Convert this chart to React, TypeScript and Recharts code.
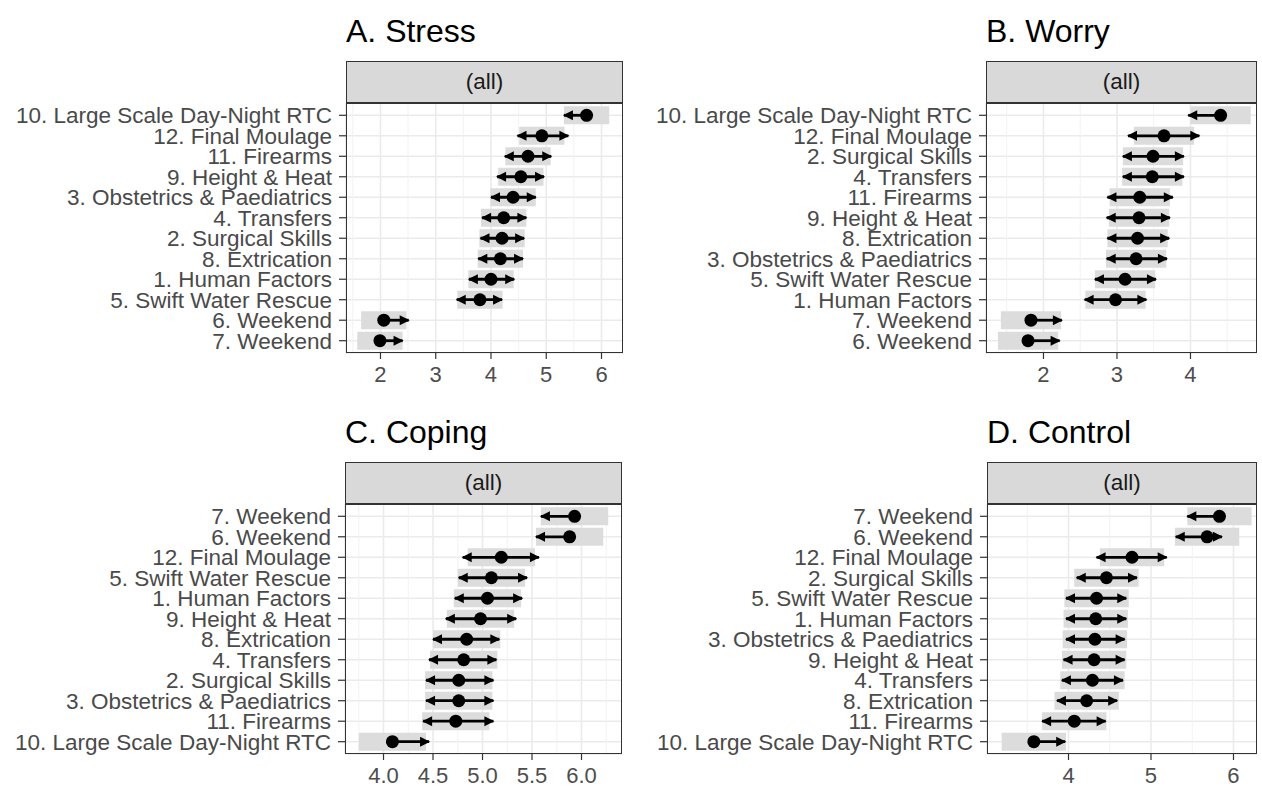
import React from 'react';
import { ScatterChart, Scatter, XAxis, YAxis, CartesianGrid, ReferenceLine, ErrorBar } from 'recharts';

const FONT = '"Liberation Sans", Arial, Helvetica, sans-serif';

// ---------- A. Stress ----------
const stressLabels = ['10. Large Scale Day-Night RTC', '12. Final Moulage', '11. Firearms', '9. Height & Heat', '3. Obstetrics & Paediatrics', '4. Transfers', '2. Surgical Skills', '8. Extrication', '1. Human Factors', '5. Swift Water Rescue', '6. Weekend', '7. Weekend'];
const stressMean = [5.73, 4.92, 4.67, 4.54, 4.40, 4.23, 4.20, 4.17, 4.00, 3.80, 2.06, 1.99];
const stressArrowLo = [5.32, 4.48, 4.25, 4.11, 4.00, 3.84, 3.81, 3.77, 3.60, 3.38, null, null];
const stressArrowHi = [null, 5.40, 5.09, 4.96, 4.81, 4.64, 4.60, 4.58, 4.42, 4.20, 2.51, 2.40];
const stressCiLo = [5.32, 4.51, 4.26, 4.13, 3.99, 3.82, 3.79, 3.76, 3.59, 3.39, 1.65, 1.58];
const stressCiHi = [6.14, 5.33, 5.08, 4.95, 4.81, 4.64, 4.61, 4.58, 4.41, 4.21, 2.47, 2.40];
const stressTicks = [2, 3, 4, 5, 6];
const stressMinor = [1.5, 2.5, 3.5, 4.5, 5.5];

// ---------- B. Worry ----------
const worryLabels = ['10. Large Scale Day-Night RTC', '12. Final Moulage', '2. Surgical Skills', '4. Transfers', '11. Firearms', '9. Height & Heat', '8. Extrication', '3. Obstetrics & Paediatrics', '5. Swift Water Rescue', '1. Human Factors', '7. Weekend', '6. Weekend'];
const worryMean = [4.41, 3.64, 3.49, 3.48, 3.31, 3.30, 3.28, 3.26, 3.11, 2.98, 1.83, 1.79];
const worryArrowLo = [3.97, 3.15, 3.08, 3.08, 2.87, 2.86, 2.87, 2.86, 2.70, 2.56, null, null];
const worryArrowHi = [null, 4.12, 3.91, 3.91, 3.76, 3.72, 3.71, 3.68, 3.53, 3.40, 2.25, 2.22];
const worryCiLo = [4.00, 3.23, 3.08, 3.07, 2.90, 2.89, 2.87, 2.85, 2.70, 2.57, 1.42, 1.38];
const worryCiHi = [4.82, 4.05, 3.90, 3.89, 3.72, 3.71, 3.69, 3.67, 3.52, 3.39, 2.24, 2.20];
const worryTicks = [2, 3, 4];
const worryMinor = [1.5, 2.5, 3.5, 4.5];

// ---------- C. Coping ----------
const copingLabels = ['7. Weekend', '6. Weekend', '12. Final Moulage', '5. Swift Water Rescue', '1. Human Factors', '9. Height & Heat', '8. Extrication', '4. Transfers', '2. Surgical Skills', '3. Obstetrics & Paediatrics', '11. Firearms', '10. Large Scale Day-Night RTC'];
const copingMean = [5.93, 5.88, 5.19, 5.09, 5.05, 4.98, 4.84, 4.81, 4.76, 4.76, 4.73, 4.09];
const copingArrowLo = [5.59, 5.54, 4.80, 4.76, 4.72, 4.63, 4.50, 4.46, 4.43, 4.43, 4.40, null];
const copingArrowHi = [null, null, 5.57, 5.45, 5.40, 5.34, 5.17, 5.14, 5.11, 5.11, 5.11, 4.46];
const copingCiLo = [5.59, 5.54, 4.85, 4.75, 4.71, 4.64, 4.50, 4.47, 4.42, 4.42, 4.39, 3.75];
const copingCiHi = [6.27, 6.22, 5.53, 5.43, 5.39, 5.32, 5.18, 5.15, 5.10, 5.10, 5.07, 4.43];
const copingTicks = [4, 4.5, 5, 5.5, 6];
const copingMinor = [3.75, 4.25, 4.75, 5.25, 5.75, 6.25];

// ---------- D. Control ----------
const controlLabels = ['7. Weekend', '6. Weekend', '12. Final Moulage', '2. Surgical Skills', '5. Swift Water Rescue', '1. Human Factors', '3. Obstetrics & Paediatrics', '9. Height & Heat', '4. Transfers', '8. Extrication', '11. Firearms', '10. Large Scale Day-Night RTC'];
const controlMean = [5.83, 5.68, 4.77, 4.46, 4.34, 4.33, 4.32, 4.31, 4.29, 4.22, 4.07, 3.58];
const controlArrowLo = [5.44, 5.30, 4.34, 4.10, 3.97, 3.97, 3.97, 3.94, 3.92, 3.86, 3.68, null];
const controlArrowHi = [null, 5.86, 5.19, 4.83, 4.70, 4.70, 4.68, 4.68, 4.66, 4.59, 4.45, 3.96];
const controlCiLo = [5.44, 5.29, 4.38, 4.07, 3.95, 3.94, 3.93, 3.92, 3.90, 3.83, 3.68, 3.19];
const controlCiHi = [6.22, 6.07, 5.16, 4.85, 4.73, 4.72, 4.71, 4.70, 4.68, 4.61, 4.46, 3.97];
const controlTicks = [4, 5, 6];
const controlMinor = [3.5, 4.5, 5.5];

type Num = number | null;

function buildRows(labels: string[], mean: number[], lo: Num[], hi: Num[], ciLo: number[], ciHi: number[]) {
  const n = labels.length;
  return labels.map((label, i) => ({
    row: n - i,
    label,
    val: mean[i],
    ciErr: [mean[i] - ciLo[i], ciHi[i] - mean[i]],
    arrErr: [lo[i] == null ? 0 : mean[i] - (lo[i] as number), hi[i] == null ? 0 : (hi[i] as number) - mean[i]],
  }));
}

function buildTips(labels: string[], tips: Num[]) {
  const n = labels.length;
  const out: { row: number; val: number }[] = [];
  tips.forEach((v, i) => {
    if (v != null) out.push({ row: n - i, val: v });
  });
  return out;
}

const Empty = () => <g />;
const Dot = (p: any) => <circle cx={p.cx} cy={p.cy} r={6.5} fill="#000" />;
const LeftTip = (p: any) => (
  <polygon points={`${p.cx - 1},${p.cy} ${p.cx + 9},${p.cy - 5} ${p.cx + 9},${p.cy + 5}`} fill="#000" />
);
const RightTip = (p: any) => (
  <polygon points={`${p.cx + 1},${p.cy} ${p.cx - 9},${p.cy - 5} ${p.cx - 9},${p.cy + 5}`} fill="#000" />
);

type PanelCfg = {
  title: string;
  labels: string[];
  mean: number[];
  lo: Num[];
  hi: Num[];
  ciLo: number[];
  ciHi: number[];
  ticks: number[];
  minor: number[];
  domain: [number, number];
  fmt: (v: number) => string;
  chartLeft: number;
  L: number;
  R: number;
  T: number;
  B: number;
  stripTop: number;
  titleBaseline: number;
};

function Panel({ cfg }: { cfg: PanelCfg }) {
  const { title, labels, mean, lo, hi, ciLo, ciHi, ticks, minor, domain, fmt, chartLeft, L, R, T, B, stripTop, titleBaseline } = cfg;
  const rows = buildRows(labels, mean, lo, hi, ciLo, ciHi);
  const loTips = buildTips(labels, lo);
  const hiTips = buildTips(labels, hi);
  const n = labels.length;
  const rowTicks = labels.map((_, i) => i + 1);
  const labelFor = (v: number) => labels[n - Math.round(v)] ?? '';
  const W = R - chartLeft;
  const H = B - T;
  return (
    <>
      <div
        style={{
          position: 'absolute',
          left: L,
          top: titleBaseline - 27,
          fontSize: 32,
          lineHeight: 1,
          fontFamily: FONT,
          color: '#000',
          whiteSpace: 'nowrap',
        }}
      >
        {title}
      </div>
      <div
        style={{
          position: 'absolute',
          left: L,
          top: stripTop,
          width: R - L,
          height: T - stripTop,
          boxSizing: 'border-box',
          background: '#d9d9d9',
          border: '1.3px solid #333',
          display: 'flex',
          alignItems: 'center',
          justifyContent: 'center',
          fontFamily: FONT,
          fontSize: 22.5,
          color: '#1a1a1a',
        }}
      >
        (all)
      </div>
      <div style={{ position: 'absolute', left: chartLeft, top: T }}>
        <ScatterChart width={W} height={H + 34} margin={{ top: 0, right: 0, bottom: 0, left: 0 }}>
          <CartesianGrid stroke="#ebebeb" strokeWidth={1.6} />
          {minor.map((v) => (
            <ReferenceLine key={v} x={v} stroke="#f0f0f0" strokeWidth={0.9} />
          ))}
          <XAxis
            type="number"
            dataKey="val"
            domain={domain}
            allowDataOverflow
            ticks={ticks}
            interval={0}
            tickFormatter={fmt}
            tick={{ fontSize: 22, fill: '#4d4d4d', fontFamily: FONT }}
            tickLine={{ stroke: '#333', strokeWidth: 1.2 }}
            tickSize={6}
            tickMargin={7}
            axisLine={false}
            height={34}
          />
          <YAxis
            type="number"
            dataKey="row"
            domain={[0.4, n + 0.6]}
            allowDataOverflow
            ticks={rowTicks}
            interval={0}
            tickFormatter={labelFor}
            tick={{ fontSize: 22.5, fill: '#4a4a4a', fontFamily: FONT }}
            tickLine={{ stroke: '#333', strokeWidth: 1.2 }}
            tickSize={7}
            tickMargin={7}
            axisLine={false}
            width={L - chartLeft}
          />
          <Scatter data={rows} shape={Empty} isAnimationActive={false}>
            <ErrorBar dataKey="ciErr" direction="x" width={0} stroke="#dcdcdc" strokeWidth={18} isAnimationActive={false} />
          </Scatter>
          <Scatter data={rows} shape={Dot} isAnimationActive={false}>
            <ErrorBar dataKey="arrErr" direction="x" width={0} stroke="#000" strokeWidth={2.8} isAnimationActive={false} />
          </Scatter>
          <Scatter data={loTips} shape={LeftTip} isAnimationActive={false} />
          <Scatter data={hiTips} shape={RightTip} isAnimationActive={false} />
        </ScatterChart>
      </div>
      <div
        style={{
          position: 'absolute',
          left: L,
          top: T,
          width: R - L,
          height: H,
          boxSizing: 'border-box',
          border: '1.3px solid #333',
          pointerEvents: 'none',
        }}
      />
    </>
  );
}

const intFmt = (v: number) => String(v);
const decFmt = (v: number) => v.toFixed(1);

const panels: PanelCfg[] = [
  {
    title: 'A. Stress', labels: stressLabels, mean: stressMean, lo: stressArrowLo, hi: stressArrowHi,
    ciLo: stressCiLo, ciHi: stressCiHi, ticks: stressTicks, minor: stressMinor, domain: [1.376, 6.389], fmt: intFmt,
    chartLeft: 0, L: 346, R: 623, T: 103, B: 353, stripTop: 61, titleBaseline: 42,
  },
  {
    title: 'B. Worry', labels: worryLabels, mean: worryMean, lo: worryArrowLo, hi: worryArrowHi,
    ciLo: worryCiLo, ciHi: worryCiHi, ticks: worryTicks, minor: worryMinor, domain: [1.218, 4.905], fmt: intFmt,
    chartLeft: 640, L: 986, R: 1257, T: 103, B: 353, stripTop: 61, titleBaseline: 42,
  },
  {
    title: 'C. Coping', labels: copingLabels, mean: copingMean, lo: copingArrowLo, hi: copingArrowHi,
    ciLo: copingCiLo, ciHi: copingCiHi, ticks: copingTicks, minor: copingMinor, domain: [3.611, 6.409], fmt: decFmt,
    chartLeft: 0, L: 345, R: 622, T: 504, B: 754, stripTop: 462, titleBaseline: 443,
  },
  {
    title: 'D. Control', labels: controlLabels, mean: controlMean, lo: controlArrowLo, hi: controlArrowHi,
    ciLo: controlCiLo, ciHi: controlCiHi, ticks: controlTicks, minor: controlMinor, domain: [3.012, 6.285], fmt: intFmt,
    chartLeft: 640, L: 987, R: 1257, T: 504, B: 754, stripTop: 462, titleBaseline: 443,
  },
];

export default function App() {
  return (
    <div style={{ position: 'absolute', left: 0, top: 0, width: 1262, height: 788, background: '#fff', overflow: 'hidden' }}>
      {panels.map((p) => (
        <Panel key={p.title} cfg={p} />
      ))}
    </div>
  );
}
